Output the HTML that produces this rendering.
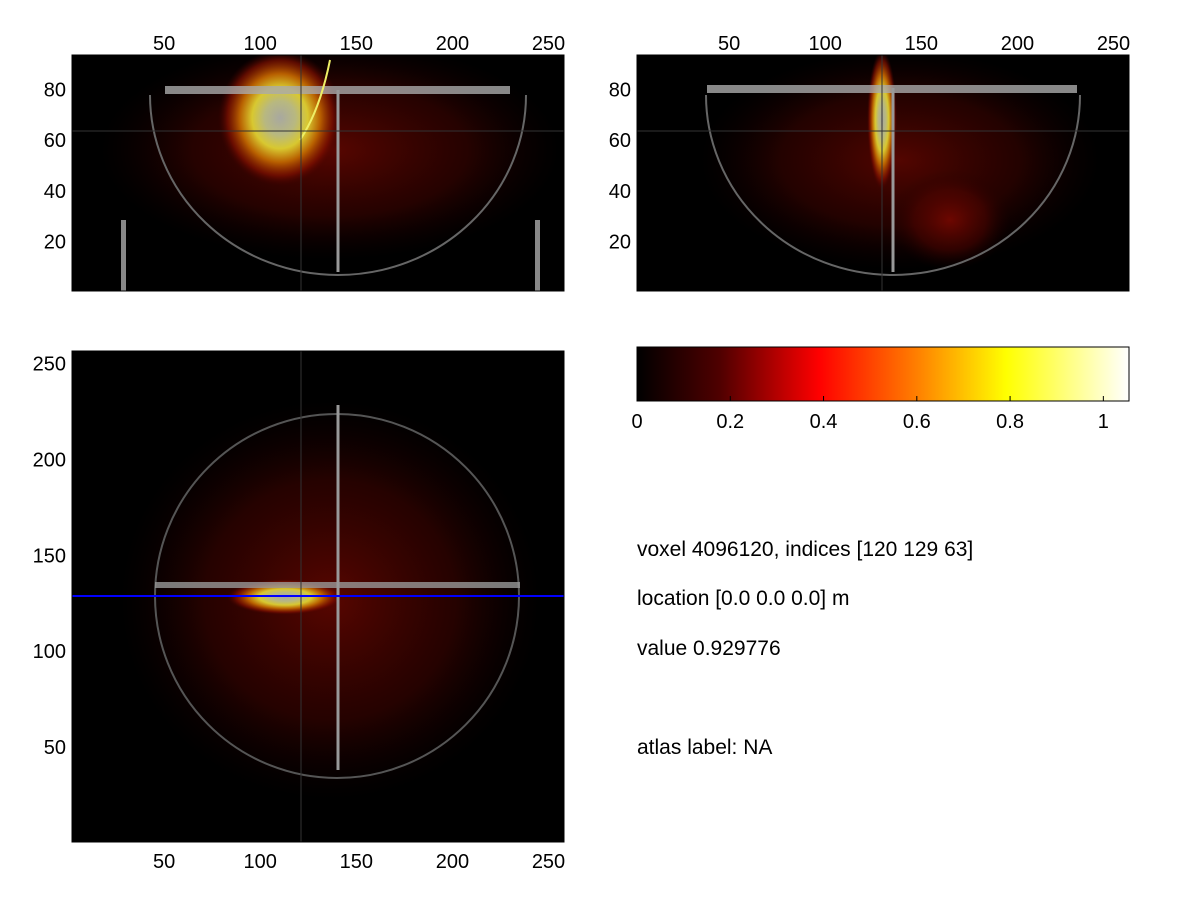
<!DOCTYPE html>
<html><head><meta charset="utf-8">
<style>
html,body{margin:0;padding:0;background:#fff;}
body{width:1201px;height:901px;overflow:hidden;font-family:"Liberation Sans",sans-serif;}
svg text{font-family:"Liberation Sans",sans-serif;font-size:20px;fill:#000;}
svg text.info{font-size:21px;}
</style></head>
<body>
<svg id="fig" width="1201" height="901">
<defs>
<radialGradient id="haze" cx="50%" cy="50%" r="50%">
 <stop offset="0" stop-color="#7a0800" stop-opacity="0.85"/>
 <stop offset="0.6" stop-color="#500400" stop-opacity="0.55"/>
 <stop offset="1" stop-color="#200000" stop-opacity="0"/>
</radialGradient>
<radialGradient id="hot" cx="50%" cy="50%" r="50%">
 <stop offset="0" stop-color="#a8a8a0"/>
 <stop offset="0.25" stop-color="#b8b880"/>
 <stop offset="0.45" stop-color="#d8c830"/>
 <stop offset="0.65" stop-color="#b86000"/>
 <stop offset="0.85" stop-color="#801000" stop-opacity="0.7"/>
 <stop offset="1" stop-color="#400000" stop-opacity="0"/>
</radialGradient>
<linearGradient id="cmap" x1="0" x2="1" y1="0" y2="0">
 <stop offset="0" stop-color="#000"/>
 <stop offset="0.17" stop-color="#500000"/>
 <stop offset="0.37" stop-color="#ff0000"/>
 <stop offset="0.57" stop-color="#ff8000"/>
 <stop offset="0.75" stop-color="#ffff00"/>
 <stop offset="1" stop-color="#ffffff"/>
</linearGradient>
<clipPath id="c1"><rect x="72" y="55" width="492" height="236"/></clipPath>
<clipPath id="c2"><rect x="637" y="55" width="492" height="236"/></clipPath>
<clipPath id="c3"><rect x="72" y="351" width="492" height="491"/></clipPath>
</defs>

<g clip-path="url(#c1)">
 <rect x="72" y="55" width="492" height="236" fill="#000"/>
 <ellipse cx="330" cy="150" rx="230" ry="110" fill="url(#haze)" opacity="0.85"/>
 <ellipse cx="280" cy="118" rx="62" ry="68" fill="url(#hot)"/>
 <path d="M150,95 A188,180 0 0 0 526,95" fill="none" stroke="#666" stroke-width="2"/>
 <rect x="165" y="86" width="345" height="8" fill="#aaa" opacity="0.8"/>
 <line x1="338" y1="90" x2="338" y2="272" stroke="#999" stroke-width="3"/>
 <rect x="121" y="220" width="5" height="71" fill="#888"/>
 <rect x="535" y="220" width="5" height="71" fill="#888"/>
 <path d="M330,60 Q320,110 300,140" stroke="#ee6" stroke-width="2" fill="none"/>
 <line x1="301" y1="55" x2="301" y2="291" stroke="#333" stroke-width="1"/>
 <line x1="72" y1="131" x2="564" y2="131" stroke="#333" stroke-width="1"/>
</g>
<rect x="72" y="55" width="492" height="236" fill="none" stroke="#000"/>

<g clip-path="url(#c2)">
 <rect x="637" y="55" width="492" height="236" fill="#000"/>
 <ellipse cx="900" cy="160" rx="200" ry="110" fill="url(#haze)" opacity="0.8"/>
 <ellipse cx="950" cy="220" rx="60" ry="50" fill="url(#haze)"/>
 <ellipse cx="882" cy="120" rx="15" ry="70" fill="url(#hot)"/>
 <path d="M706,95 A187,180 0 0 0 1080,95" fill="none" stroke="#666" stroke-width="2"/>
 <rect x="707" y="85" width="370" height="8" fill="#aaa" opacity="0.8"/>
 <line x1="893" y1="88" x2="893" y2="272" stroke="#999" stroke-width="3"/>
 <line x1="882" y1="55" x2="882" y2="291" stroke="#333" stroke-width="1"/>
 <line x1="637" y1="131" x2="1129" y2="131" stroke="#333" stroke-width="1"/>
</g>
<rect x="637" y="55" width="492" height="236" fill="none" stroke="#000"/>

<g clip-path="url(#c3)">
 <rect x="72" y="351" width="492" height="491" fill="#000"/>
 <ellipse cx="330" cy="600" rx="210" ry="200" fill="url(#haze)" opacity="0.85"/>
 <ellipse cx="285" cy="597" rx="58" ry="18" fill="url(#hot)"/>
 <circle cx="337" cy="596" r="182" fill="none" stroke="#555" stroke-width="2"/>
 <rect x="155" y="582" width="365" height="6" fill="#999" opacity="0.8"/>
 <line x1="338" y1="405" x2="338" y2="770" stroke="#999" stroke-width="3"/>
 <line x1="301" y1="351" x2="301" y2="842" stroke="#333" stroke-width="1"/>
 <line x1="72" y1="596" x2="564" y2="596" stroke="#0000ff" stroke-width="2"/>
</g>
<rect x="72" y="351" width="492" height="491" fill="none" stroke="#000"/>

<rect x="637" y="347" width="492" height="54" fill="url(#cmap)" stroke="#000"/>

<g id="ticks"></g>

<text class="info" x="637" y="556">voxel 4096120, indices [120 129 63]</text>
<text class="info" x="637" y="605">location [0.0 0.0 0.0] m</text>
<text class="info" x="637" y="655">value 0.929776</text>
<text class="info" x="637" y="754">atlas label: NA</text>
</svg>
<script>
const xTicks=[50,100,150,200,250];
const yTicksTop=[20,40,60,80];
const yTicksBottom=[50,100,150,200,250];
const cbTicks=[0,0.2,0.4,0.6,0.8,1];
const cbLabels=['0','0.2','0.4','0.6','0.8','1'];
const g=document.getElementById('ticks');
const NS='http://www.w3.org/2000/svg';
function sx(x0,v){return x0+(v-0.5)*492/256;}
function syTop(v){return 291-(v-0.5)*236/93;}
function syBot(v){return 842-(v-0.5)*491/256;}
function cbx(v){return 637+v*492/1.055;}
function txt(x,y,s,anchor){const t=document.createElementNS(NS,'text');t.setAttribute('x',x);t.setAttribute('y',y);t.setAttribute('text-anchor',anchor);t.textContent=s;


g.appendChild(t);}
function tk(x1,y1,x2,y2){const l=document.createElementNS(NS,'line');l.setAttribute('x1',x1);l.setAttribute('y1',y1);l.setAttribute('x2',x2);l.setAttribute('y2',y2);l.setAttribute('stroke','#000');


g.appendChild(l);}
xTicks.forEach(v=>{txt(sx(72,v)-3,50,String(v),'middle');txt(sx(637,v)-3,50,String(v),'middle');txt(sx(72,v)-3,868,String(v),'middle');
 tk(sx(72,v),842,sx(72,v),837);});
yTicksTop.forEach(v=>{txt(66,syTop(v)+7,String(v),'end');txt(631,syTop(v)+7,String(v),'end');});
yTicksBottom.forEach(v=>{txt(66,syBot(v)+7,String(v),'end');});
cbTicks.forEach((v,i)=>{txt(cbx(v),428,cbLabels[i],'middle');tk(cbx(v),401,cbx(v),396);});
</script>
</body></html>
